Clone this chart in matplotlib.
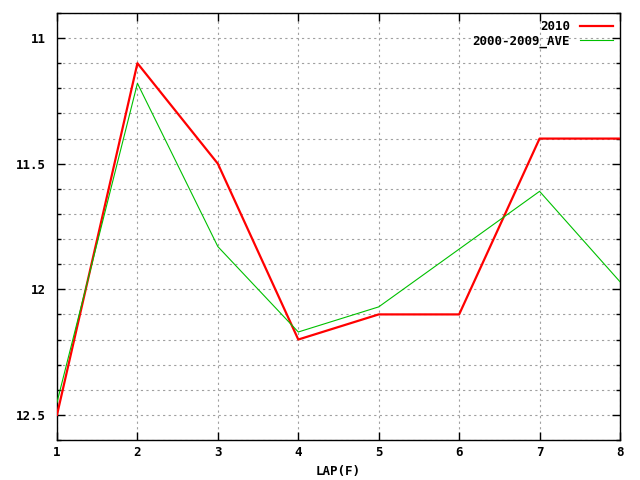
import numpy as np
import matplotlib
matplotlib.use("Agg")
import matplotlib.pyplot as plt
from matplotlib.ticker import MultipleLocator

# lap numbers and lap times (s)
laps = [1, 2, 3, 4, 5, 6, 7, 8]
times_2010 = [12.5, 11.1, 11.5, 12.2, 12.1, 12.1, 11.4, 11.4]
times_ave = [12.45, 11.18, 11.83, 12.17, 12.07, 11.84, 11.61, 11.97]

plt.rcParams["font.family"] = "DejaVu Sans Mono"
plt.rcParams["font.weight"] = "bold"

fig = plt.figure(figsize=(6.4, 4.8), dpi=100)
ax = fig.add_axes([57 / 640, 40 / 480, 563 / 640, 427 / 480])

ax.plot(laps, times_2010, color="#ff0000", lw=1.6, label="2010", zorder=3)
ax.plot(laps, times_ave, color="#00c000", lw=0.8, label="2000-2009_AVE", zorder=3)

ax.set_xlim(1, 8)
ax.set_ylim(12.6, 10.9)
ax.xaxis.set_major_locator(MultipleLocator(1))
ax.yaxis.set_major_locator(MultipleLocator(0.5))
ax.yaxis.set_minor_locator(MultipleLocator(0.1))
ax.yaxis.set_major_formatter(plt.FuncFormatter(lambda v, p: f"{v:g}"))

ax.grid(True, which="both", color="#a0a0a0", linestyle=(0, (2, 3)), lw=0.8)
ax.tick_params(which="both", direction="in", top=True, right=True, labelsize=9)
ax.tick_params(which="major", length=6, width=1)
ax.tick_params(which="minor", length=3, width=1)
ax.tick_params(axis="x", pad=4)
ax.tick_params(axis="y", pad=8)
for s in ax.spines.values():
    s.set_linewidth(1)

ax.set_xlabel("LAP(F)", fontsize=9, fontweight="bold", va="center")
ax.xaxis.set_label_coords(0.5, -0.073)

leg = ax.legend(loc="upper right", frameon=False, markerfirst=False,
                fontsize=9, handlelength=2.6, borderaxespad=0.2,
                labelspacing=0.1)
for t in leg.get_texts():
    t.set_ha("right")

fig.savefig("out.png", dpi=100)
